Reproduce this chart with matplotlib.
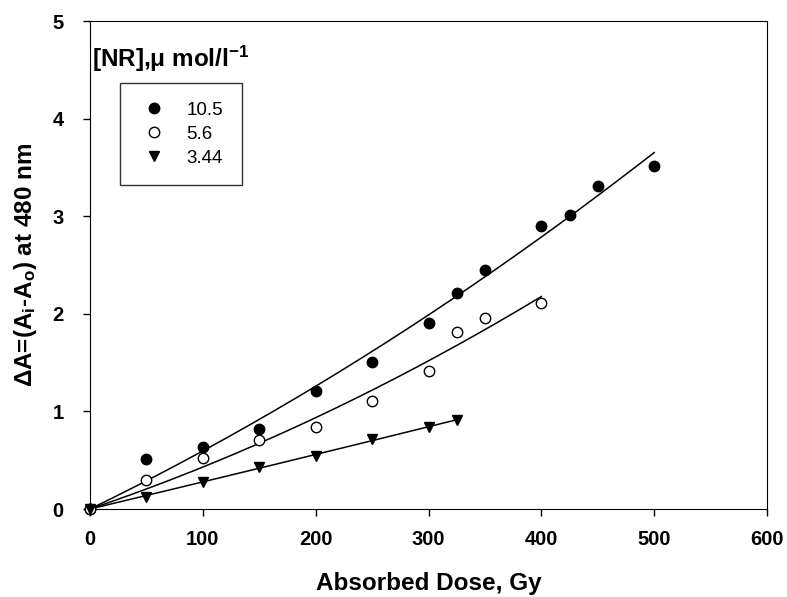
import matplotlib.pyplot as plt
import numpy as np

plt.rcParams['font.family'] = ['Liberation Sans', 'DejaVu Sans']
plt.rcParams['mathtext.fontset'] = 'custom'
plt.rcParams['mathtext.rm'] = 'Liberation Sans:bold'
plt.rcParams['mathtext.it'] = 'Liberation Sans:bold'

# dose (Gy) and delta A for each NR concentration
dose_a = [0, 50, 100, 150, 200, 250, 300, 325, 350, 400, 425, 450, 500]
da_a = [0, 0.51, 0.64, 0.82, 1.21, 1.51, 1.91, 2.21, 2.45, 2.90, 3.01, 3.31, 3.51]
dose_b = [0, 50, 100, 150, 200, 250, 300, 325, 350, 400]
da_b = [0, 0.30, 0.52, 0.71, 0.84, 1.11, 1.41, 1.81, 1.96, 2.11]
dose_c = [0, 50, 100, 150, 200, 250, 300, 325]
da_c = [0, 0.12, 0.28, 0.43, 0.54, 0.72, 0.84, 0.91]
labels = ['10.5', '5.6', '3.44']

fig = plt.figure(figsize=(7.87, 5.97), dpi=100)
ax = fig.add_axes([0.1144, 0.1474, 0.8602, 0.8174])

def fit_line(x, y):
    # quadratic through the origin
    x = np.asarray(x, float)
    y = np.asarray(y, float)
    A = np.column_stack([x, x ** 2])
    coef = np.linalg.lstsq(A, y, rcond=None)[0]
    xs = np.linspace(0, x.max(), 200)
    return xs, coef[0] * xs + coef[1] * xs ** 2

series = [(dose_a, da_a, 'o', 'black'), (dose_b, da_b, 'o', 'white'), (dose_c, da_c, 'v', 'black')]
for (x, y, m, fc), lab in zip(series, labels):
    xs, ys = fit_line(x, y)
    ax.plot(xs, ys, color='black', lw=1.1)
    ax.plot(x, y, ls='none', marker=m, ms=7.5, mfc=fc, mec='black', mew=1,
            label=lab, clip_on=False, zorder=3)

ax.set_xlim(0, 600)
ax.set_ylim(0, 5)
ax.set_xticks(range(0, 601, 100))
ax.set_yticks(range(0, 6))
ax.tick_params(direction='out', length=5, width=1, labelsize=14.5)
ax.tick_params(axis='x', pad=10)
ax.tick_params(axis='y', pad=14)
for t in ax.get_xticklabels() + ax.get_yticklabels():
    t.set_fontweight('bold')
ax.set_xlabel('Absorbed Dose, Gy', fontsize=17.5, fontweight='bold', labelpad=17)
ax.set_ylabel(r'ΔA=(A$_{i}$-A$_{o}$) at 480 nm', fontsize=17.5, fontweight='bold', labelpad=10)

ax.text(0.003, 0.906, r'[NR],μ mol/l$^{-1}$', transform=ax.transAxes,
        fontsize=17.5, fontweight='bold', ha='left', va='baseline')
leg = ax.legend(loc='upper left', bbox_to_anchor=(0.0443, 0.873), fontsize=13.5,
                frameon=True, fancybox=False, edgecolor='black', borderaxespad=0,
                handletextpad=0.95, borderpad=1.0, labelspacing=0.36, handlelength=1.6)
leg.get_frame().set_linewidth(1)

fig.savefig('out.png', dpi=100)
